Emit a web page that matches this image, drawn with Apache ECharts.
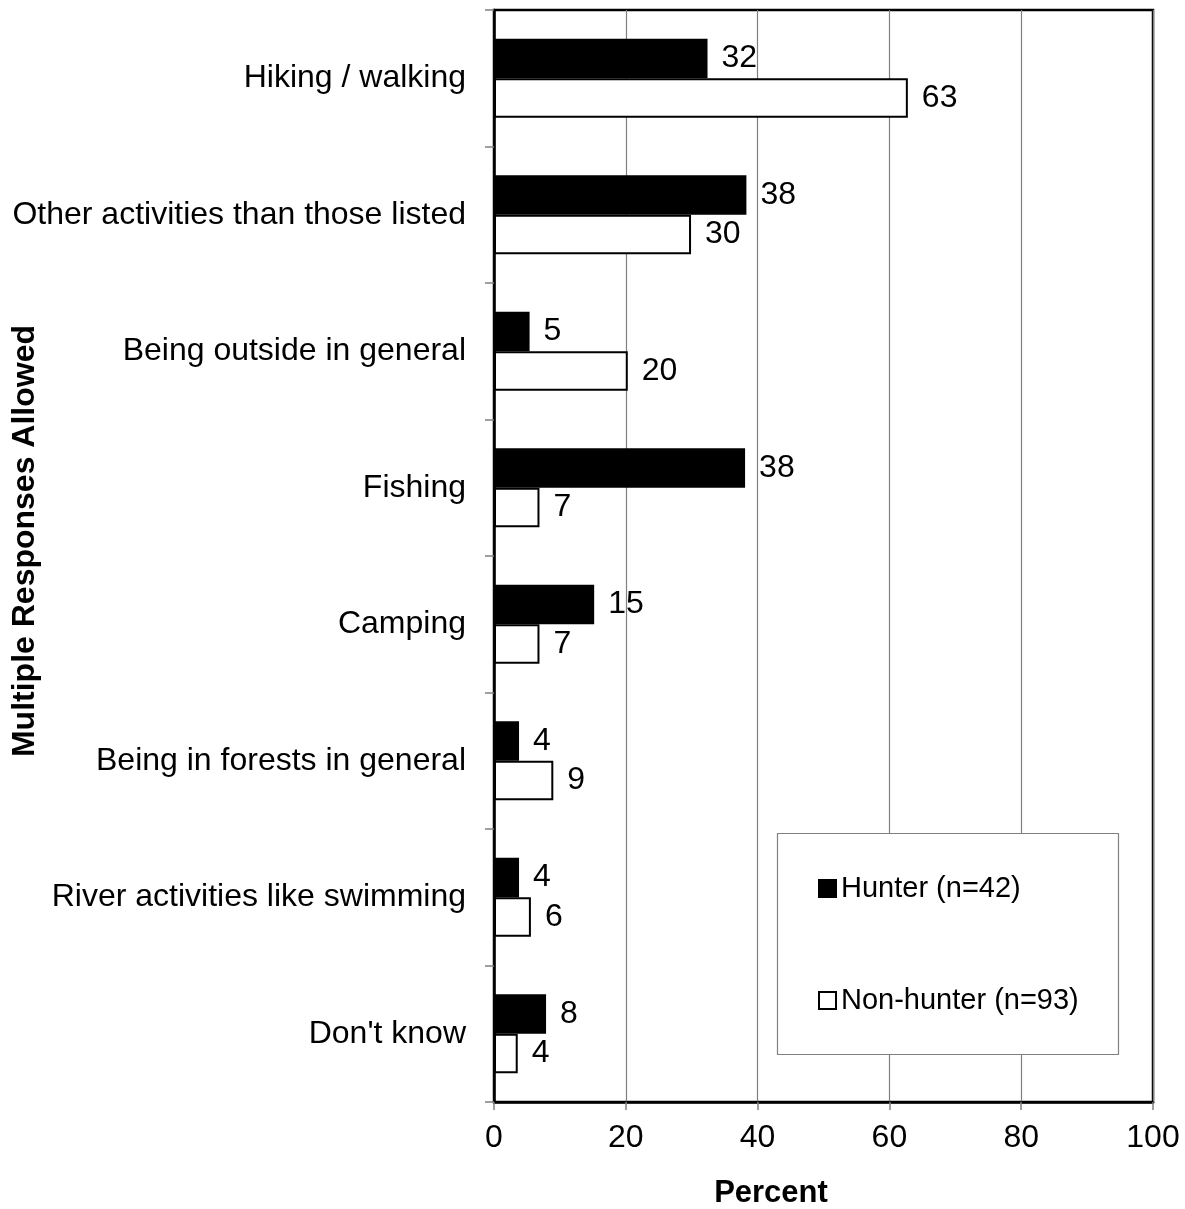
<!DOCTYPE html>
<html><head><meta charset="utf-8">
<script src="https://cdn.jsdelivr.net/npm/echarts@6/dist/echarts.min.js"></script>
<style>html,body{margin:0;padding:0;background:#fff}#c{width:1185px;height:1209px}</style>
</head><body><div id="c"></div>
<script>
var categories = ["Hiking / walking","Other activities than those listed","Being outside in general","Fishing","Camping","Being in forests in general","River activities like swimming","Don't know"];
var hunter = [32.4, 38.3, 5.4, 38.1, 15.2, 3.8, 3.8, 7.9];
var nonHunter = [62.8, 29.9, 20.3, 6.9, 6.9, 9.0, 5.6, 3.6];
var xTicks = [0, 20, 40, 60, 80, 100];
var seriesNames = ["Hunter (n=42)", "Non-hunter (n=93)"];

var FONT = "Liberation Sans, Arial, sans-serif";
var chart = echarts.init(document.getElementById('c'), null, {renderer:'canvas'});
var lbl = {show:true, position:'right', distance:14, color:'#000', fontSize:32, fontFamily:FONT,
  formatter:function(p){return Math.round(p.value);}};
chart.setOption({
  animation:false,
  backgroundColor:'#fff',
  grid:{left:494, top:10, right:32, bottom:107, show:true, borderColor:'#000', borderWidth:2.5, backgroundColor:'transparent'},
  xAxis:{type:'value', min:xTicks[0], max:xTicks[xTicks.length-1], interval:20,
    axisLine:{show:true, lineStyle:{color:'#000', width:2.5}},
    axisTick:{show:true, length:8, lineStyle:{color:'#808080', width:1.5}},
    axisLabel:{color:'#000', fontSize:32, fontFamily:FONT, margin:20},
    splitLine:{show:true, lineStyle:{color:'#808080', width:1.2}}},
  yAxis:{type:'category', data:categories, inverse:true,
    axisLine:{show:true, lineStyle:{color:'#000', width:2.5}},
    axisTick:{show:true, length:9, lineStyle:{color:'#808080', width:1.5}},
    axisLabel:{color:'#000', fontSize:32, fontFamily:FONT, margin:28}},
  legend:{orient:'vertical', left:818, top:874, padding:0, itemGap:83, itemWidth:17, itemHeight:17, z:20,
    textStyle:{color:'#000', fontSize:29, fontFamily:FONT},
    icon:'rect', data:seriesNames},
  graphic:[
    {type:'rect', z:15, shape:{x:777.5, y:833.5, width:341, height:221}, style:{fill:'#fff', stroke:'#808080', lineWidth:1.2}},
    {type:'text', z:20, x:25, y:541, rotation:Math.PI/2, style:{text:'Multiple Responses Allowed', fontSize:32, fontWeight:'bold', fontFamily:FONT, fill:'#000', align:'center', verticalAlign:'middle'}},
    {type:'text', z:20, x:771, y:1193, style:{text:'Percent', fontSize:31, fontWeight:'bold', fontFamily:FONT, fill:'#000', align:'center', verticalAlign:'middle'}}
  ],
  series:[
    {name:seriesNames[0], type:'bar', data:hunter, barGap:'0%', barCategoryGap:'42%',
      itemStyle:{color:'#000', borderColor:'#000', borderWidth:2}, label:lbl},
    {name:seriesNames[1], type:'bar', data:nonHunter,
      itemStyle:{color:'#fff', borderColor:'#000', borderWidth:2}, label:lbl}
  ]
});
</script></body></html>
